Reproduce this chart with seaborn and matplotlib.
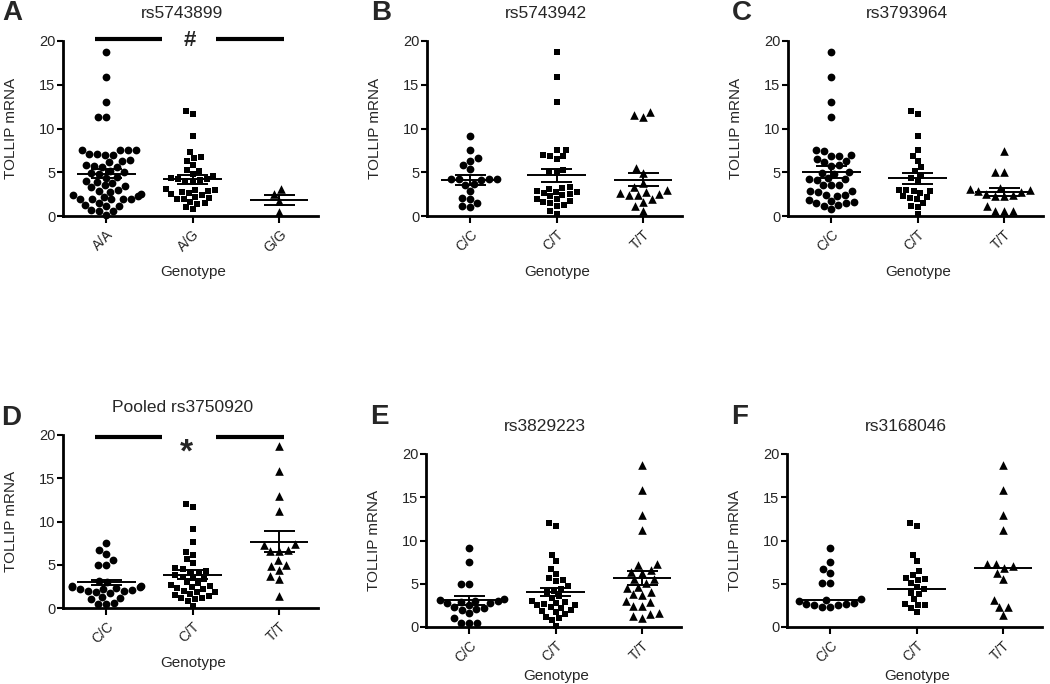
import numpy as np
import pandas as pd
import matplotlib
matplotlib.use("Agg")
import matplotlib.pyplot as plt
import seaborn as sns

sns.set_theme(style="ticks")
plt.rcParams['font.family'] = ['Liberation Sans', 'DejaVu Sans']

# ---------------- data ----------------
A_title = "rs5743899"
A_cats = ["A/A", "A/G", "G/G"]
A_g1 = [18.7, 15.9, 13.0, 11.3, 11.3, 7.6, 7.6, 7.5, 7.6, 7.1, 7.0, 7.1, 7.0, 6.4, 6.3, 6.2,
        5.8, 5.7, 5.6, 5.6, 5.2, 5.0, 4.9, 4.8, 4.5, 4.4, 4.0, 3.9, 3.8, 3.5, 3.4, 3.3,
        3.0, 2.9, 2.8, 2.5, 2.4, 2.3, 2.2, 2.0, 2.0, 2.0, 1.9, 2.0, 1.5, 1.3, 1.2, 1.2,
        0.7, 0.6, 0.6, 0.1]
A_g2 = [12.0, 11.7, 9.2, 7.3, 6.8, 6.6, 6.3, 5.8, 5.3, 5.2, 4.8, 4.6, 4.4, 4.2, 4.2, 4.1,
        4.0, 3.9, 3.1, 3.0, 3.0, 2.9, 2.8, 2.6, 2.5, 2.4, 2.2, 2.1, 2.0, 2.0, 1.6, 1.5,
        1.4, 1.0, 0.8]
A_g3 = [3.1, 2.5, 1.7, 0.5]
A_center = [4.85, 4.2, 1.85]
A_sem = [0.55, 0.5, 0.6]

B_title = "rs5743942"
B_cats = ["C/C", "C/T", "T/T"]
B_g1 = [9.1, 7.5, 6.6, 6.3, 5.8, 5.4, 4.2, 4.2, 4.1, 4.2, 4.2, 3.6, 3.7, 2.9, 1.9, 2.1,
        1.0, 1.1, 1.5]
B_g2 = [18.7, 15.9, 13.0, 7.6, 7.6, 7.0, 6.9, 6.9, 6.5, 5.3, 5.0, 4.9, 3.3, 3.2, 3.1,
        2.9, 2.8, 2.7, 2.6, 2.5, 2.4, 2.3, 2.0, 1.9, 1.7, 1.6, 1.5, 1.3, 1.1, 0.6, 0.2]
B_g3 = [11.9, 11.6, 11.3, 5.5, 4.9, 3.8, 3.3, 3.0, 2.7, 2.5, 2.4, 2.4, 2.6, 1.9, 1.6,
        1.1, 0.6]
B_center = [4.15, 4.65, 4.15]
B_sem = [0.55, 0.77, 0.72]

C_title = "rs3793964"
C_cats = ["C/C", "C/T", "T/T"]
C_g1 = [18.7, 15.9, 13.0, 11.3, 7.5, 7.4, 7.0, 6.9, 6.9, 6.5, 6.3, 6.2, 5.8, 5.7, 5.0,
        4.9, 4.8, 4.3, 4.2, 4.2, 4.1, 3.6, 3.5, 3.5, 2.9, 2.9, 2.8, 2.4, 2.4, 2.3, 1.8,
        1.7, 1.6, 1.5, 1.5, 1.3, 1.2, 0.8]
C_g2 = [12.0, 11.7, 9.1, 7.6, 6.9, 6.3, 5.6, 5.1, 4.6, 4.3, 3.9, 3.0, 3.0, 2.9, 2.9,
        2.6, 2.3, 2.2, 2.1, 1.9, 1.5, 1.2, 1.0, 0.2]
C_g3 = [7.4, 5.0, 5.0, 3.2, 3.1, 3.0, 2.9, 2.8, 2.5, 2.4, 2.3, 2.3, 1.1, 0.6, 0.6, 0.6]
C_center = [5.05, 4.3, 2.75]
C_sem = [0.65, 0.65, 0.45]

D_title = "Pooled rs3750920"
D_cats = ["C/C", "C/T", "T/T"]
D_g1 = [7.5, 6.7, 6.3, 5.5, 5.0, 5.0, 3.1, 3.0, 2.6, 2.5, 2.4, 2.4, 2.3, 2.2, 2.2, 2.1,
        2.0, 2.0, 1.8, 1.7, 1.3, 1.2, 1.0, 0.6, 0.5, 0.5]
D_g2 = [12.0, 11.7, 9.1, 7.6, 6.5, 6.1, 5.7, 5.2, 4.6, 4.5, 4.3, 4.2, 4.0, 3.8, 3.6,
        3.5, 3.3, 3.0, 2.9, 2.7, 2.6, 2.4, 2.3, 2.2, 2.0, 1.9, 1.8, 1.6, 1.5, 1.4, 1.2,
        1.1, 1.0, 0.8, 0.2]
D_g3 = [18.7, 15.8, 13.0, 11.2, 7.4, 7.3, 6.7, 6.6, 6.6, 5.5, 5.0, 4.9, 4.4, 3.7, 3.4, 1.4]
D_center = [2.95, 3.85, 7.65]
D_sem = [0.3, 0.55, 1.2]

E_title = "rs3829223"
E_cats = ["C/C", "C/T", "T/T"]
E_g1 = [9.1, 7.5, 5.0, 5.0, 3.2, 3.1, 3.0, 3.0, 2.9, 2.8, 2.8, 2.5, 2.3, 2.2, 2.1, 2.0,
        1.6, 1.0, 0.5, 0.5, 0.5]
E_g2 = [12.0, 11.7, 8.3, 7.6, 6.7, 6.1, 5.7, 5.4, 5.3, 4.7, 4.4, 4.2, 4.0, 3.6, 3.4,
        3.0, 2.9, 2.8, 2.7, 2.6, 2.5, 2.3, 2.2, 2.0, 1.9, 1.7, 1.5, 1.2, 1.0, 0.8, 0.1]
E_g3 = [18.7, 15.8, 12.9, 11.2, 7.3, 7.2, 6.6, 6.4, 6.3, 5.6, 5.5, 5.1, 4.6, 4.5, 4.0,
        3.8, 3.7, 3.0, 2.9, 2.4, 2.4, 1.6, 1.5, 1.3, 1.0]
E_center = [3.1, 4.05, 5.65]
E_sem = [0.5, 0.5, 0.85]

F_title = "rs3168046"
F_cats = ["C/C", "C/T", "T/T"]
F_g1 = [9.1, 7.5, 6.7, 6.3, 5.1, 5.1, 3.2, 3.1, 3.0, 2.8, 2.7, 2.7, 2.6, 2.6, 2.3, 2.3]
F_g2 = [12.0, 11.7, 8.3, 7.6, 6.5, 6.0, 5.7, 5.5, 5.4, 5.1, 4.6, 4.4, 3.9, 3.8, 3.2,
        2.7, 2.5, 2.5, 2.2, 1.7]
F_g3 = [18.7, 15.8, 12.9, 11.2, 7.3, 7.3, 7.1, 6.8, 6.2, 5.5, 3.1, 2.3, 2.3, 1.4]
F_center = [3.15, 4.45, 6.85]
F_sem = [0, 0, 0]

y_ticks = [0, 5, 10, 15, 20]
y_label = "TOLLIP mRNA"
x_label = "Genotype"

A_sig = "#"
D_sig = "*"

# ---------------- layout ----------------
W, H = 1050, 684
fig = plt.figure(figsize=(W / 100, H / 100), dpi=100)

def rect(left_px, top_px, bottom_px, width_px=255):
    return [left_px / W, 1 - bottom_px / H, width_px / W, (bottom_px - top_px) / H]

panels = [
    ("A", A_title, A_cats, (A_g1, A_g2, A_g3), A_center, A_sem, rect(63, 41, 216), A_sig, (12, 13), -0.28),
    ("B", B_title, B_cats, (B_g1, B_g2, B_g3), B_center, B_sem, rect(427, 41, 216), None, (381, 13), -0.28),
    ("C", C_title, C_cats, (C_g1, C_g2, C_g3), C_center, C_sem, rect(788, 41, 216), None, (742, 13), -0.28),
    ("D", D_title, D_cats, (D_g1, D_g2, D_g3), D_center, D_sem, rect(63, 435, 608), D_sig, (11, 418), -0.28),
    ("E", E_title, E_cats, (E_g1, E_g2, E_g3), E_center, E_sem, rect(426, 454, 627), None, (379, 417), -0.24),
    ("F", F_title, F_cats, (F_g1, F_g2, F_g3), F_center, F_sem, rect(787, 454, 627), None, (740, 417), -0.24),
]

markers = ["o", "s", "^"]
msizes = [5.6, 5.0, 6.2]

for letter, title, cats, groups, center, sem, r, sig, lpos, xly in panels:
    ax = fig.add_axes(r)
    df = pd.DataFrame({
        "Genotype": np.concatenate([[c] * len(g) for c, g in zip(cats, groups)]),
        "mRNA": np.concatenate([np.asarray(g, float) for g in groups]),
    })
    for c, m, ms in zip(cats, markers, msizes):
        sns.swarmplot(data=df[df["Genotype"] == c], x="Genotype", y="mRNA", order=cats,
                      marker=m, size=ms, color="black", linewidth=0, ax=ax,
                      warn_thresh=1.0)
    for coll in ax.collections:
        coll.set_clip_on(False)
    for i, (cv, sv) in enumerate(zip(center, sem)):
        ax.hlines(cv, i - 0.34, i + 0.34, color="black", lw=1.4, zorder=4)
        if sv > 0:
            ax.hlines([cv - sv, cv + sv], i - 0.18, i + 0.18, color="black", lw=1.4, zorder=4)
            ax.vlines(i, cv - sv, cv + sv, color="black", lw=1.4, zorder=4)
    ax.set_xlim(-0.5, 2.45)
    ax.set_ylim(0, 20)
    ax.set_yticks(y_ticks)
    ax.set_yticklabels([str(t) for t in y_ticks], fontsize=10.5)
    ax.set_xticks(range(3))
    ax.set_xticklabels(cats, fontsize=10, rotation=45, ha="right", rotation_mode="anchor")
    sns.despine(ax=ax)
    for s in ("left", "bottom"):
        ax.spines[s].set_linewidth(2.0)
        ax.spines[s].set_color("black")
    ax.tick_params(axis="both", width=1.5, length=4, color="black", pad=1.5)
    ax.tick_params(axis="x", length=5, pad=3)
    ax.set_ylabel(y_label, fontsize=11)
    ax.yaxis.set_label_coords(-0.176, 0.5)
    ax.set_xlabel(x_label, fontsize=11)
    ax.xaxis.set_label_coords(0.51, xly)
    ax.text(0.467, 1 + 28 / 175, title, transform=ax.transAxes, ha="center", va="center",
            fontsize=12.5)
    fig.text(lpos[0] / W, 1 - lpos[1] / H, letter, ha="center", va="center",
             fontsize=20, fontweight="bold")
    if sig is not None:
        ybar = 20.2 if sig == "#" else 19.8
        ax.plot([-0.13, 0.65], [ybar, ybar], color="black", lw=3, clip_on=False,
                solid_capstyle="butt")
        ax.plot([1.27, 2.06], [ybar, ybar], color="black", lw=3, clip_on=False,
                solid_capstyle="butt")
        if sig == "#":
            ax.text(0.97, ybar - 0.2, sig, ha="center", va="center", fontsize=16,
                    fontweight="bold", clip_on=False)
        else:
            ax.text(0.93, ybar - 1.9, sig, ha="center", va="center", fontsize=24,
                    fontweight="bold", clip_on=False)

fig.savefig("out.png", dpi=100)
